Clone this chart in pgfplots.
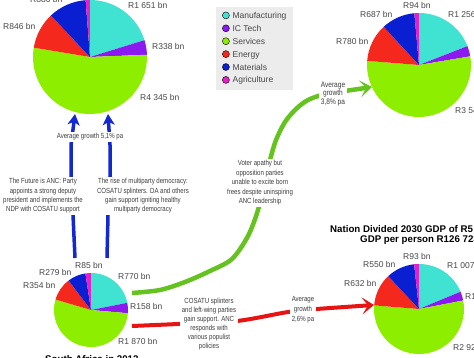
\documentclass[border=0pt]{standalone}
\usepackage{fontspec}
\setmainfont{Liberation Sans}
\newfontfamily\cond[FakeStretch=0.82]{Liberation Sans}
\usepackage{pgfplots}
\pgfplotsset{compat=1.18}
\usetikzlibrary{arrows.meta}

\definecolor{mfg}{RGB}{64,226,210}
\definecolor{ict}{RGB}{140,25,240}
\definecolor{srv}{RGB}{142,238,0}
\definecolor{nrg}{RGB}{245,40,30}
\definecolor{mat}{RGB}{10,30,210}
\definecolor{agr}{RGB}{232,30,200}
\definecolor{arrblue}{RGB}{20,40,210}
\definecolor{arrred}{RGB}{232,20,20}
\definecolor{arrgreen}{RGB}{100,195,30}
\definecolor{legendgray}{RGB}{236,236,236}
\definecolor{labelgray}{RGB}{70,70,70}
\definecolor{anngray}{RGB}{60,60,60}

\makeatletter
\newcommand{\drawpie}[4]{%
  \gdef\pietot{0}%
  \foreach \v/\c in {#4}{\pgfmathsetmacro{\pie@t}{\pietot+\v}\global\let\pietot\pie@t}%
  \gdef\pieang{90}%
  \foreach \v/\c in {#4}{%
    \pgfmathsetmacro{\pie@a}{\pieang-(\v/\pietot)*360}%
    \edef\pie@cmd{\noexpand\fill[\c] (axis cs:#1,#2) -- ([shift={(\pieang:#3pt)}]axis cs:#1,#2) arc[start angle=\pieang, end angle=\pie@a, radius=#3pt] -- cycle;}%
    \pie@cmd
    \global\let\pieang\pie@a
  }%
}
\makeatother

\tikzset{
  lbl/.style={font=\fontsize{8.5}{10}\selectfont, text=labelgray, inner sep=0pt, anchor=base west},
  ann/.style={font=\cond\fontsize{7.4}{9.3}\selectfont, text=anngray, align=center, fill=white, inner sep=1.5pt},
  ttl/.style={font=\bfseries\fontsize{9.7}{10}\selectfont, text=black, inner sep=0pt, anchor=base west}
}

\begin{document}
\begin{tikzpicture}
\useasboundingbox (0,0) rectangle (474pt,358pt);
\begin{axis}[
  at={(0pt,0pt)}, anchor=south west,
  x=1pt, y=1pt, xmin=0, xmax=474, ymin=0, ymax=358,
  hide axis, clip=true, clip mode=global,
  legend style={at={(0.4557,0.9804)}, anchor=north west, fill=legendgray, draw=none,
    inner xsep=6pt, inner ysep=4.5pt, font=\fontsize{8.5}{10}\selectfont, text=labelgray,
    row sep=3.9pt, column sep=2pt,
    nodes={inner xsep=1pt, inner ysep=0.5pt, text height=6.2pt, text depth=1.8pt}},
  legend cell align=left,
  legend image code/.code={\fill[#1] (3.5pt,0.8pt) circle (3.5pt);},
]
\addlegendimage{fill=mfg}\addlegendentry{Manufacturing}
\addlegendimage{fill=ict}\addlegendentry{IC Tech}
\addlegendimage{fill=srv}\addlegendentry{Services}
\addlegendimage{fill=nrg}\addlegendentry{Energy}
\addlegendimage{fill=mat}\addlegendentry{Materials}
\addlegendimage{fill=agr}\addlegendentry{Agriculture}

% pies: value/colour (Manufacturing, IC Tech, Services, Energy, Materials, Agriculture)
\drawpie{90}{301}{57}{1651/mfg, 338/ict, 4345/srv, 846/nrg, 880/mat, 100/agr}
\drawpie{419}{293}{52}{1256/mfg, 213/ict, 3548/srv, 780/nrg, 687/mat, 94/agr}
\drawpie{91}{48}{37}{770/mfg, 158/ict, 1870/srv, 354/nrg, 279/mat, 85/agr}
\drawpie{419}{49}{45}{1007/mfg, 175/ict, 2920/srv, 632/nrg, 550/mat, 93/agr}

% arrows
\addplot[draw=arrblue, line width=3.5pt, -{Stealth[length=11pt,width=12pt,inset=3pt]}]
  coordinates {(75,100) (73,143) (71,181) (71,213) (75,244)};
\addplot[draw=arrblue, line width=3.5pt, -{Stealth[length=11pt,width=12pt,inset=3pt]}]
  coordinates {(107,100) (108,143) (110,181) (110,213) (108,244)};
\addplot[draw=arrred, line width=4pt, smooth, -{Stealth[length=12pt,width=17pt,inset=6pt]}]
  coordinates {(132,32) (178,34) (237,37) (288,46) (317,49) (374,53)};
\addplot[draw=arrgreen, line width=4.5pt, smooth, -{Stealth[length=12pt,width=17pt,inset=6pt]}]
  coordinates {(132,65) (160,68) (185,76) (210,87) (232,99) (248,122) (258,148) (265,178) (270,198) (276,218) (285,236) (296,249) (308,258) (325,264) (345,267) (372,271)};

% annotations
\node[ann] at (axis cs:90,221) {Average growth 5,1\% pa};
\node[ann] at (axis cs:43,162) {The Future is ANC: Party\\appoints a strong deputy\\president and implements the\\NDP with COSATU support};
\node[ann] at (axis cs:143,162) {The rise of multiparty democracy:\\COSATU splinters. DA and others\\gain support igniting healthy\\multiparty democracy};
\node[ann, font=\cond\fontsize{7.4}{9.5}\selectfont] at (axis cs:260,175) {Voter apathy but\\opposition parties\\unable to excite born\\frees despite uninspiring\\ANC leadership};
\node[ann, font=\cond\fontsize{7.4}{9}\selectfont] at (axis cs:209,33.5) {COSATU splinters\\and left-wing parties\\gain support. ANC\\responds with\\various populist\\policies};
\node[ann, font=\cond\fontsize{7.4}{10}\selectfont] at (axis cs:303,48) {Average\\growth\\2,6\% pa};
\node[ann, font=\cond\fontsize{8}{8.8}\selectfont] at (axis cs:333,264) {Average\\growth\\3,8\% pa};

% pie labels
\node[lbl] at (axis cs:30,355) {R880 bn};
\node[lbl] at (axis cs:3,328) {R846 bn};
\node[lbl] at (axis cs:128,349) {R1 651 bn};
\node[lbl] at (axis cs:152,308) {R338 bn};
\node[lbl] at (axis cs:140,257) {R4 345 bn};

\node[lbl] at (axis cs:403,349) {R94 bn};
\node[lbl] at (axis cs:360,340) {R687 bn};
\node[lbl] at (axis cs:336,313) {R780 bn};
\node[lbl] at (axis cs:448,340) {R1 256 bn};
\node[lbl] at (axis cs:455,244) {R3 548 bn};

\node[lbl] at (axis cs:75,89) {R85 bn};
\node[lbl] at (axis cs:39,82) {R279 bn};
\node[lbl] at (axis cs:23,69) {R354 bn};
\node[lbl] at (axis cs:118,78) {R770 bn};
\node[lbl] at (axis cs:130,48) {R158 bn};
\node[lbl] at (axis cs:118,13) {R1 870 bn};

\node[lbl] at (axis cs:403,98) {R93 bn};
\node[lbl] at (axis cs:363,90) {R550 bn};
\node[lbl] at (axis cs:344,71) {R632 bn};
\node[lbl] at (axis cs:447,89) {R1 007 bn};
\node[lbl] at (axis cs:465,58) {R175 bn};
\node[lbl] at (axis cs:453,7) {R2 920 bn};

% titles
\node[ttl] at (axis cs:330,125.5) {Nation Divided 2030 GDP of R5 377 bn};
\node[ttl] at (axis cs:360,115.5) {GDP per person R126 723};
\node[ttl] at (axis cs:45,-4.5) {South Africa in 2012};
\end{axis}
\end{tikzpicture}
\end{document}
